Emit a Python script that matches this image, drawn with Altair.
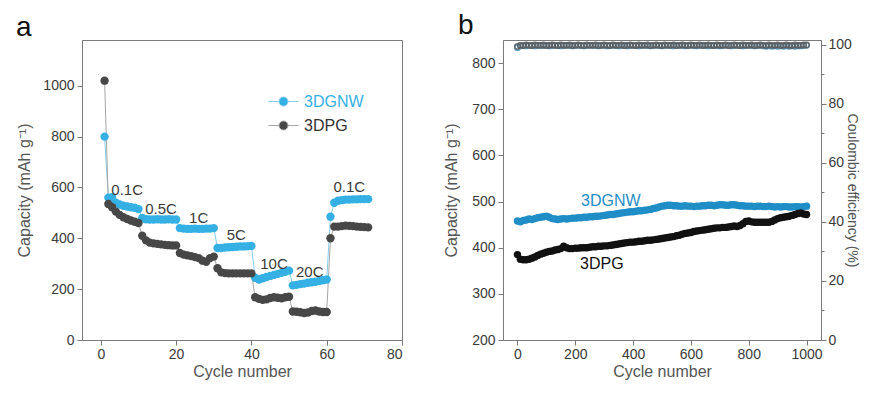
import altair as alt
import pandas as pd

# ---------------- Panel a : rate capability ----------------
cycles_a = list(range(1, 72))
gnw_a = [800, 560, 562, 540, 533, 528, 525, 522, 520, 515,
         480, 475, 474, 474, 475, 474, 474, 475, 474, 474,
         440, 438, 437, 437, 438, 437, 437, 438, 438, 440,
         362, 362, 364, 365, 366, 367, 368, 368, 369, 370,
         245, 238, 243, 248, 252, 256, 260, 264, 268, 273,
         215, 217, 220, 222, 225, 227, 229, 232, 235, 238,
         485, 540, 548, 550, 552, 552, 553, 553, 554, 554, 554]
dpg_a = [1020, 535, 522, 505, 492, 483, 476, 470, 465, 460,
         410, 392, 383, 380, 378, 376, 374, 373, 372, 372,
         342, 336, 333, 330, 326, 322, 312, 308, 322, 328,
         282, 266, 263, 262, 262, 262, 262, 262, 262, 262,
         168, 162, 158, 160, 165, 168, 166, 164, 168, 170,
         112, 111, 109, 106, 108, 114, 116, 112, 110, 110,
         400, 446, 446, 448, 450, 449, 448, 446, 445, 444, 443]
rate_labels = ["0.1C", "0.5C", "1C", "5C", "10C", "20C", "0.1C "]
rate_x = [7, 16, 26, 36, 46, 55.5, 66]
rate_y = [591, 517, 479, 413, 298, 268, 601]
series_names = ["3DGNW", "3DPG"]

# ---------------- Panel b : long cycling ----------------
cycles_b = list(range(0, 1001, 10))
gnw_b = [458, 456, 459, 460, 462, 461, 463, 465, 466, 467,
         468, 466, 463, 462, 461, 462, 463, 462, 463, 464,
         464, 465, 465, 466, 466, 467, 467, 468, 468, 469,
         470, 471, 472, 472, 473, 474, 475, 476, 477, 478,
         478, 479, 480, 480, 481, 482, 483, 485, 486, 488,
         490, 491, 492, 492, 491, 491, 490, 490, 491, 490,
         490, 489, 490, 490, 491, 491, 492, 492, 491, 492,
         493, 493, 492, 492, 493, 493, 492, 491, 491, 490,
         490, 490, 489, 490, 490, 489, 489, 490, 489, 488,
         489, 488, 489, 489, 488, 488, 489, 489, 488, 489,
         490]
dpg_b = [385, 375, 374, 374, 375, 377, 380, 383, 386, 388,
         390, 392, 393, 395, 396, 398, 403, 400, 398, 398,
         399, 399, 400, 400, 400, 401, 402, 402, 403, 403,
         404, 404, 405, 406, 407, 408, 409, 410, 411, 412,
         412, 413, 414, 414, 415, 416, 416, 417, 418, 419,
         420, 421, 422, 423, 424, 426, 427, 429, 431, 432,
         433, 435, 436, 437, 438, 439, 440, 441, 442, 443,
         443, 444, 444, 445, 446, 447, 446, 448, 452, 457,
         458, 456, 455, 455, 455, 455, 455, 455, 457, 460,
         463, 465, 466, 467, 468, 470, 472, 474, 475, 473,
         472]
ce_gnw = [99.0, 99.6, 99.7, 99.6, 99.8, 99.7, 99.6, 99.8, 99.7, 99.7,
          99.8, 99.6, 99.7, 99.8, 99.7, 99.6, 99.7, 99.8, 99.7, 99.6,
          99.7, 99.8, 99.7, 99.6, 99.7, 99.8, 99.7, 99.7, 99.6, 99.8,
          99.7, 99.6, 99.7, 99.8, 99.7, 99.6, 99.7, 99.8, 99.6, 99.7,
          99.8, 99.7, 99.6, 99.7, 99.8, 99.7, 99.6, 99.7, 99.8, 99.7,
          99.6, 99.7, 99.8, 99.7, 99.6, 99.7, 99.8, 99.7, 99.6, 99.7,
          99.8, 99.7, 99.6, 99.7, 99.8, 99.7, 99.6, 99.7, 99.8, 99.7,
          99.6, 99.7, 99.8, 99.7, 99.6, 99.7, 99.8, 99.7, 99.6, 99.7,
          99.8, 99.7, 99.6, 99.7, 99.8, 99.6, 99.5, 99.6, 99.5, 99.6,
          99.5, 99.6, 99.5, 99.6, 99.5, 99.6, 99.5, 99.6, 99.6, 99.7,
          99.8]
ce_dpg = [99.4, 99.8, 99.7, 99.9, 99.8, 99.7, 99.9, 99.8, 99.8, 99.9,
          99.7, 99.8, 99.9, 99.8, 99.7, 99.9, 99.8, 99.8, 99.9, 99.7,
          99.8, 99.9, 99.8, 99.7, 99.9, 99.8, 99.8, 99.9, 99.7, 99.8,
          99.9, 99.8, 99.7, 99.9, 99.8, 99.8, 99.9, 99.7, 99.8, 99.9,
          99.8, 99.7, 99.9, 99.8, 99.8, 99.9, 99.7, 99.8, 99.9, 99.8,
          99.7, 99.9, 99.8, 99.8, 99.9, 99.7, 99.8, 99.9, 99.8, 99.7,
          99.9, 99.8, 99.8, 99.9, 99.7, 99.8, 99.9, 99.8, 99.7, 99.9,
          99.8, 99.8, 99.9, 99.7, 99.8, 99.9, 99.8, 99.7, 99.9, 99.8,
          99.8, 99.9, 99.7, 99.8, 99.9, 99.8, 99.7, 99.9, 99.8, 99.8,
          99.9, 99.7, 99.8, 99.9, 99.8, 99.7, 99.9, 99.8, 99.8, 99.9,
          99.9]
text_b = ["3DGNW", "3DPG"]
text_b_x = [323, 292]
text_b_y = [501, 364]

FONT = "Liberation Sans"
BLUE_A, DARK_A = "#35b0e4", "#474747"
LINE_BLUE, LINE_GREY = "#86cdee", "#a6a6a6"
BLUE_B, DARK_B = "#1f8dc6", "#111111"
PLOT_H = 300


def minor_axis(major, minor_vals, title, **kw):
    return alt.Axis(
        values=minor_vals,
        format="d",
        labelExpr=f"datum.value % {major} === 0 ? datum.label : ''",
        tickSize={"condition": {"test": f"datum.value % {major} !== 0", "value": 3}, "value": 5},
        title=title,
        grid=False,
        **kw,
    )


# ---------------- build panel a ----------------
dfa = pd.DataFrame({
    "cycle": cycles_a * 2,
    "cap": gnw_a + dpg_a,
    "series": [series_names[0]] * len(cycles_a) + [series_names[1]] * len(cycles_a),
})
dfa_lab = pd.DataFrame({"label": rate_labels, "x": rate_x, "y": rate_y})

xa = alt.X("cycle:Q", scale=alt.Scale(domain=[-5, 80], nice=False, zero=False),
           axis=minor_axis(20, list(range(0, 81, 10)), "Cycle number", titlePadding=2, labelPadding=2))
ya = alt.Y("cap:Q", scale=alt.Scale(domain=[0, 1180], nice=False),
           axis=minor_axis(200, list(range(0, 1101, 100)), "Capacity (mAh g\u207B\u00B9)", titlePadding=10))

lines_a = alt.Chart(dfa).mark_line(strokeWidth=1).encode(
    x=xa, y=ya,
    stroke=alt.Stroke("series:N", scale=alt.Scale(domain=series_names, range=[LINE_BLUE, LINE_GREY]), legend=None),
)
sym = "M-1,0L-0.3,0M0.3,0L1,0M-0.3,0A0.3,0.3,0,1,1,0.3,0A0.3,0.3,0,1,1,-0.3,0Z"
points_a = alt.Chart(dfa).mark_circle(size=70, opacity=1).encode(
    x=xa, y=ya,
    color=alt.Color("series:N", scale=alt.Scale(domain=series_names, range=[BLUE_A, DARK_A]),
                    legend=alt.Legend(title=None, orient="none", legendX=186, legendY=46,
                                      symbolType=sym, symbolSize=900, symbolStrokeWidth=1,
                                      symbolStrokeColor={"expr": f"datum.value == '3DGNW' ? '{LINE_BLUE}' : '{LINE_GREY}'"},
                                      labelColor={"expr": f"datum.value == '3DGNW' ? '{BLUE_A}' : '#333333'"},
                                      labelFontSize=16, labelFont=FONT, labelOffset=5,
                                      rowPadding=-11, padding=0)),
)
text_a = alt.Chart(dfa_lab).mark_text(fontSize=15, font=FONT, color="#3a3a3a").encode(
    x=alt.X("x:Q"), y=alt.Y("y:Q"), text="label:N")

panel_a = alt.layer(lines_a, points_a, text_a).resolve_scale(color="independent").properties(
    width=320, height=PLOT_H,
    title=alt.TitleParams("a", anchor="start", frame="group", dx=-66, fontSize=28, font=FONT,
                          fontWeight="normal", color="#111111", offset=-2),
)

# ---------------- build panel b ----------------
dfb = pd.DataFrame({
    "cycle": cycles_b * 2,
    "cap": gnw_b + dpg_b,
    "series": [series_names[0]] * len(cycles_b) + [series_names[1]] * len(cycles_b),
})
dfce = pd.DataFrame({
    "cycle": cycles_b * 2,
    "ce": ce_gnw + ce_dpg,
    "series": [series_names[0]] * len(cycles_b) + [series_names[1]] * len(cycles_b),
})
dfb_lab = pd.DataFrame({"label": text_b, "x": text_b_x, "y": text_b_y, "series": text_b})

xb = alt.X("cycle:Q", scale=alt.Scale(domain=[-50, 1050], nice=False, zero=False),
           axis=minor_axis(200, list(range(0, 1001, 100)), "Cycle number", titlePadding=2, labelPadding=2))
yb = alt.Y("cap:Q", scale=alt.Scale(domain=[200, 850], nice=False, zero=False),
           axis=minor_axis(100, list(range(200, 851, 50)), "Capacity (mAh g\u207B\u00B9)", titlePadding=12))
col_b = alt.Color("series:N", scale=alt.Scale(domain=series_names, range=[BLUE_B, DARK_B]), legend=None)

pts_b = alt.Chart(dfb).mark_circle(size=55, opacity=1).encode(x=xb, y=yb, color=col_b)
txt_b = alt.Chart(dfb_lab).mark_text(fontSize=16, font=FONT).encode(
    x=alt.X("x:Q"), y=alt.Y("y:Q"), text="label:N", color=col_b)
cap_b = alt.layer(pts_b, txt_b)

ce_b = alt.Chart(dfce).mark_point(size=30, filled=False, strokeWidth=1.4, opacity=0.9).encode(
    x=xb,
    y=alt.Y("ce:Q", scale=alt.Scale(domain=[0, 101.6], nice=False),
            axis=alt.Axis(orient="right", values=list(range(0, 101, 10)),
                          labelExpr="datum.value % 20 === 0 ? datum.label : ''",
                          tickSize={"condition": {"test": "datum.value % 20 !== 0", "value": 3}, "value": 5},
                          labelPadding=2, title="Coulombic efficiency (%)", titleAngle=90,
                          titleFontSize=14, titlePadding=-7, grid=False)),
    color=alt.Color("series:N", scale=alt.Scale(domain=series_names, range=["#4f9fca", "#5e5e5e"]), legend=None),
)

panel_b = alt.layer(cap_b, ce_b).resolve_scale(y="independent", color="independent").properties(
    width=318, height=PLOT_H,
    title=alt.TitleParams("b", anchor="start", frame="group", dx=-45, fontSize=28, font=FONT,
                          fontWeight="normal", color="#111111", offset=-2),
)

chart = alt.hconcat(panel_a, panel_b, spacing=40).properties(
    padding={"left": 7, "top": 3, "right": 6, "bottom": 0}
).configure_view(stroke="#7a7a7a", strokeWidth=1).configure_axis(
    domainColor="#7a7a7a", tickColor="#7a7a7a", labelColor="#3a3a3a", titleColor="#555555",
    labelFont=FONT, titleFont=FONT, labelFontSize=14, titleFontSize=16, titleFontWeight="normal",
    labelPadding=3,
).configure_concat(spacing=40)

chart.save("out.html", embed_options={"renderer": "svg", "actions": False})
